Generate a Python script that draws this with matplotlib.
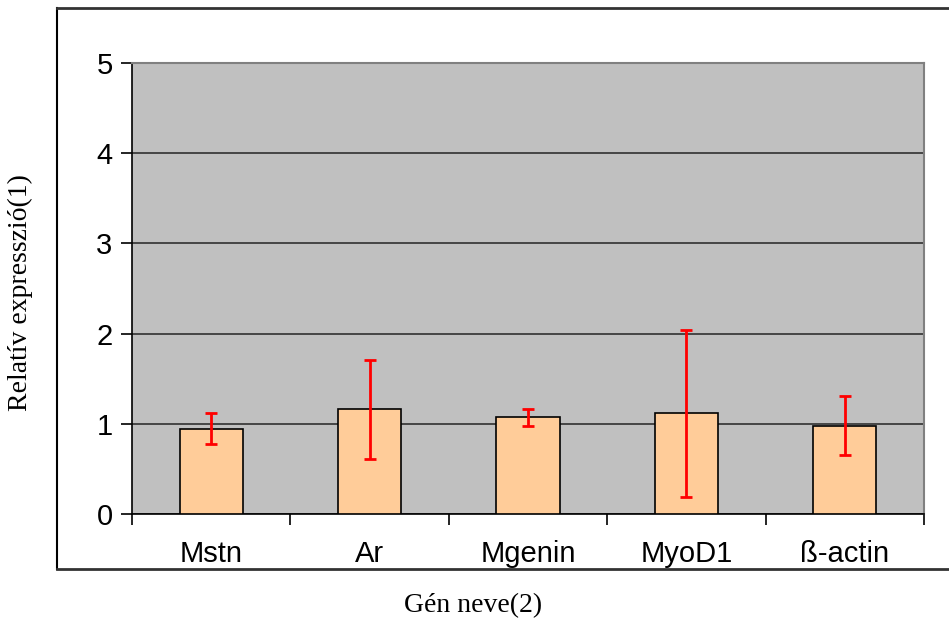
import numpy as np
import matplotlib.pyplot as plt
from matplotlib.lines import Line2D

genes = ['Mstn', 'Ar', 'Mgenin', 'MyoD1', 'ß-actin']
values = [0.945, 1.16, 1.07, 1.115, 0.98]
errors = [0.17, 0.55, 0.09, 0.925, 0.325]

fig = plt.figure(figsize=(9.49, 6.24), dpi=100)
ax = fig.add_axes([132/949, 1-514/624, (924-132)/949, (514-63)/624])

x = np.arange(len(genes))
ax.set_facecolor('#c0c0c0')
ax.bar(x, values, width=0.4, color='#ffcc99', edgecolor='black', linewidth=1.2, zorder=3)
ax.errorbar(x, values, yerr=errors, fmt='none', ecolor='red', elinewidth=2,
            capsize=4, capthick=2, zorder=4)

ax.set_xlim(-0.5, len(genes)-0.5)
ax.set_ylim(0, 5)
ax.set_yticks(range(6))
ax.yaxis.grid(True, color='#303030', linewidth=1.2, zorder=1)
ax.set_axisbelow(True)

ax.set_xticks(x)
ax.set_xticklabels(genes, fontfamily='Liberation Sans', fontsize=21)
ax.set_xticks(np.arange(len(genes)+1)-0.5, minor=True)
ax.tick_params(axis='x', which='major', length=0, pad=19)
ax.tick_params(axis='x', which='minor', length=8, width=1.2, direction='out')
ax.tick_params(axis='y', length=8, width=1.2, direction='out', pad=6)
for t in ax.get_yticklabels():
    t.set_fontfamily('Liberation Sans')
    t.set_fontsize(21)

for s in ['top', 'right']:
    ax.spines[s].set_color('#808080')
    ax.spines[s].set_linewidth(1.5)
for s in ['left', 'bottom']:
    ax.spines[s].set_color('black')
    ax.spines[s].set_linewidth(1.2)

# outer chart frame
fw, fh = 949, 624
fig.add_artist(Line2D([57/fw, 57/fw], [1-8/fh, 1-569/fh], color='black', lw=1.5))
fig.add_artist(Line2D([57/fw, 1], [1-8/fh, 1-8/fh], color='#333333', lw=2))
fig.add_artist(Line2D([57/fw, 1], [1-569/fh, 1-569/fh], color='#333333', lw=2))

fig.text(20/fw, 1-293/fh, 'Relatív expresszió(1)', rotation=90, ha='center', va='center',
         fontfamily='Liberation Serif', fontsize=20)
fig.text(473/fw, 1-606/fh, 'Gén neve(2)', ha='center', va='center',
         fontfamily='Liberation Serif', fontsize=20)

fig.savefig('out.png', dpi=100)
